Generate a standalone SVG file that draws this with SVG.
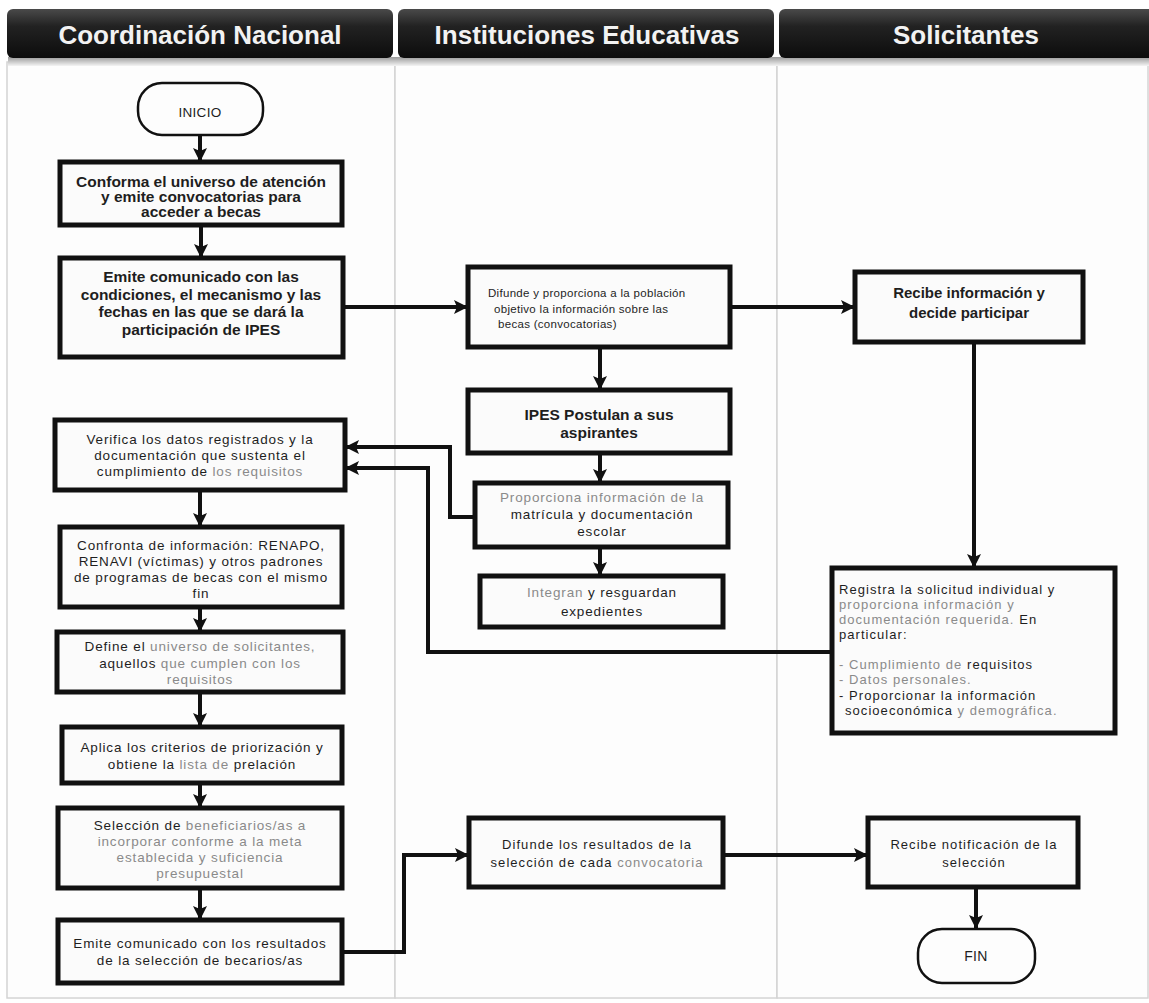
<svg xmlns="http://www.w3.org/2000/svg" width="1149" height="1003" viewBox="0 0 1149 1003">
<style>
.hdr{fill:url(#hg)}
.htxt{font-family:"Liberation Sans",Arial,sans-serif;font-size:26px;font-weight:bold;fill:#f2f2f2;text-anchor:middle}
.lane{fill:#fdfdfd;stroke:#d4d4d4;stroke-width:1.5}
.box{fill:#fbfbfb;stroke:#111;stroke-width:5}
.term{fill:#fdfdfd;stroke:#111;stroke-width:2.5}
.t{font-family:"Liberation Sans",Arial,sans-serif;font-size:13.5px;letter-spacing:0.85px;fill:#1e1e1e;text-anchor:middle}
.s{font-size:13px;letter-spacing:1.05px}
.tl{font-family:"Liberation Sans",Arial,sans-serif;font-size:13px;letter-spacing:1.05px;fill:#1e1e1e}
.b{font-weight:bold;font-size:15.5px;letter-spacing:0}
.g{fill:#8a8a8a}
.con{fill:none;stroke:#111;stroke-width:4;marker-end:url(#ah)}
</style>
<defs>
<linearGradient id="hg" x1="0" y1="0" x2="0" y2="1">
<stop offset="0" stop-color="#4a4a4a"/>
<stop offset="0.35" stop-color="#222"/>
<stop offset="1" stop-color="#0c0c0c"/>
</linearGradient>
<linearGradient id="sh" x1="0" y1="0" x2="0" y2="1">
<stop offset="0" stop-color="#9a9a9a"/>
<stop offset="1" stop-color="#f4f4f4"/>
</linearGradient>
<marker id="ah" markerUnits="userSpaceOnUse" markerWidth="16" markerHeight="16" viewBox="0 0 16 16" refX="14" refY="8" orient="auto">
<path d="M0,1 L14,8 L0,15 L3,8 z" fill="#111"/>
</marker>
</defs>
<rect width="1149" height="1003" fill="#ffffff"/>
<g id="lanes">
<rect class="lane" x="7" y="62" width="388" height="936"/>
<rect class="lane" x="395" y="62" width="382" height="936"/>
<rect class="lane" x="777" y="62" width="371" height="936"/>
<rect x="8" y="57" width="1141" height="9" fill="url(#sh)"/>
</g>
<g id="headers">
<rect class="hdr" x="7" y="9" width="386" height="49" rx="6"/>
<text class="htxt" x="200" y="44">Coordinación Nacional</text>
<rect class="hdr" x="398" y="9" width="376" height="49" rx="6"/>
<text class="htxt" x="587" y="44">Instituciones Educativas</text>
<rect class="hdr" x="779" y="9" width="380" height="49" rx="6"/>
<text class="htxt" x="966" y="44">Solicitantes</text>
</g>
<g id="connectors">
<path class="con" d="M200,135 V162"/>
<path class="con" d="M201,225 V258"/>
<path class="con" d="M343,307 H468"/>
<path class="con" d="M730,307 H855"/>
<path class="con" d="M600,347 V390"/>
<path class="con" d="M600,453 V483"/>
<path class="con" d="M600,547 V576"/>
<path class="con" d="M974,342 V568"/>
<path class="con" d="M475,517 H450 V447 H345"/>
<path class="con" d="M832,652 H428 V468 H345"/>
<path class="con" d="M200,490 V527"/>
<path class="con" d="M200,607 V632"/>
<path class="con" d="M200,692 V727"/>
<path class="con" d="M200,783 V808"/>
<path class="con" d="M200,888 V920"/>
<path class="con" d="M342,952 H404 V855 H469"/>
<path class="con" d="M723,855 H868"/>
<path class="con" d="M976,887 V929"/>
</g>
<g id="inicio">
<rect class="term" x="138" y="83" width="125" height="52" rx="24"/>
<text class="t" x="200" y="117" style="letter-spacing:0.3px">INICIO</text>
</g>
<g id="conforma">
<rect class="box" x="60" y="162" width="282" height="63"/>
<text class="t b" x="201" y="187">Conforma el universo de atención</text>
<text class="t b" x="201" y="202">y emite convocatorias para</text>
<text class="t b" x="201" y="217">acceder a becas</text>
</g>
<g id="emite">
<rect class="box" x="60" y="258" width="283" height="99"/>
<text class="t b" x="201" y="282">Emite comunicado con las</text>
<text class="t b" x="201" y="299.5">condiciones, el mecanismo y las</text>
<text class="t b" x="201" y="317">fechas en las que se dará la</text>
<text class="t b" x="201" y="334.5">participación de IPES</text>
</g>
<g id="difunde">
<rect class="box" x="468" y="267" width="262" height="80"/>
<text class="tl" x="488" y="297" style="font-size:11.5px;letter-spacing:0.3px">Difunde y proporciona a la población</text>
<text class="tl" x="494" y="313" style="font-size:11.5px;letter-spacing:0.3px">objetivo la información sobre las</text>
<text class="tl" x="498" y="328" style="font-size:11.5px;letter-spacing:0.3px">becas (convocatorias)</text>
</g>
<g id="recibe">
<rect class="box" x="855" y="272" width="228" height="70"/>
<text class="t b" x="969" y="298" style="font-size:15px">Recibe información y</text>
<text class="t b" x="969" y="318" style="font-size:15px">decide participar</text>
</g>
<g id="ipes">
<rect class="box" x="468" y="390" width="262" height="63"/>
<text class="t b" x="599" y="420">IPES Postulan a sus</text>
<text class="t b" x="599" y="438">aspirantes</text>
</g>
<g id="proporciona">
<rect class="box" x="475" y="483" width="253" height="64"/>
<text class="t g" x="602" y="502">Proporciona información de la</text>
<text class="t" x="602" y="519">matrícula y documentación</text>
<text class="t" x="602" y="536">escolar</text>
</g>
<g id="integran">
<rect class="box" x="480" y="576" width="243" height="51"/>
<text class="t" x="602" y="597"><tspan class="g">Integran</tspan> y resguardan</text>
<text class="t" x="602" y="616">expedientes</text>
</g>
<g id="verifica">
<rect class="box" x="55" y="420" width="290" height="70"/>
<text class="t" x="200" y="444">Verifica los datos registrados y la</text>
<text class="t" x="200" y="460">documentación que sustenta el</text>
<text class="t" x="200" y="476">cumplimiento de <tspan class="g">los requisitos</tspan></text>
</g>
<g id="confronta">
<rect class="box" x="60" y="527" width="282" height="80"/>
<text class="t" x="201" y="550">Confronta de información: RENAPO,</text>
<text class="t" x="201" y="566">RENAVI (víctimas) y otros padrones</text>
<text class="t" x="201" y="582">de programas de becas con el mismo</text>
<text class="t" x="201" y="598">fin</text>
</g>
<g id="define">
<rect class="box" x="57" y="632" width="286" height="60"/>
<text class="t" x="200" y="651">Define el <tspan class="g">universo de solicitantes,</tspan></text>
<text class="t" x="200" y="668">aquellos <tspan class="g">que cumplen con los</tspan></text>
<text class="t g" x="200" y="684">requisitos</text>
</g>
<g id="aplica">
<rect class="box" x="62" y="727" width="280" height="56"/>
<text class="t" x="202" y="752">Aplica los criterios de priorización y</text>
<text class="t" x="202" y="769">obtiene la <tspan class="g">lista de</tspan> prelación</text>
</g>
<g id="seleccion">
<rect class="box" x="58" y="808" width="284" height="80"/>
<text class="t" x="200" y="830">Selección de <tspan class="g">beneficiarios/as a</tspan></text>
<text class="t g" x="200" y="846">incorporar conforme a la meta</text>
<text class="t g" x="200" y="862">establecida y suficiencia</text>
<text class="t g" x="200" y="878">presupuestal</text>
</g>
<g id="emite2">
<rect class="box" x="58" y="920" width="284" height="63"/>
<text class="t" x="200" y="948">Emite comunicado con los resultados</text>
<text class="t" x="200" y="965">de la selección de becarios/as</text>
</g>
<g id="registra">
<rect class="box" x="832" y="568" width="283" height="165"/>
<text class="tl" x="839" y="594">Registra la solicitud individual y</text>
<text class="tl g" x="839" y="609">proporciona información y</text>
<text class="tl" x="839" y="624"><tspan class="g">documentación requerida.</tspan> En</text>
<text class="tl" x="839" y="639">particular:</text>
<text class="tl" x="839" y="669"><tspan class="g">- Cumplimiento de</tspan> requisitos</text>
<text class="tl g" x="839" y="684">- Datos personales.</text>
<text class="tl" x="839" y="700">- Proporcionar la información</text>
<text class="tl" x="845" y="715">socioeconómica <tspan class="g">y demográfica.</tspan></text>
</g>
<g id="difunde2">
<rect class="box" x="469" y="818" width="254" height="69"/>
<text class="t s" x="597" y="849">Difunde los resultados de la</text>
<text class="t s" x="597" y="867">selección de cada <tspan class="g">convocatoria</tspan></text>
</g>
<g id="recibe2">
<rect class="box" x="868" y="818" width="210" height="69"/>
<text class="t s" x="974" y="849">Recibe notificación de la</text>
<text class="t s" x="974" y="867">selección</text>
</g>
<g id="fin">
<rect class="term" x="918" y="929" width="117" height="54" rx="24"/>
<text class="t" x="976" y="961" style="font-size:14px;letter-spacing:0.3px">FIN</text>
</g>
</svg>
